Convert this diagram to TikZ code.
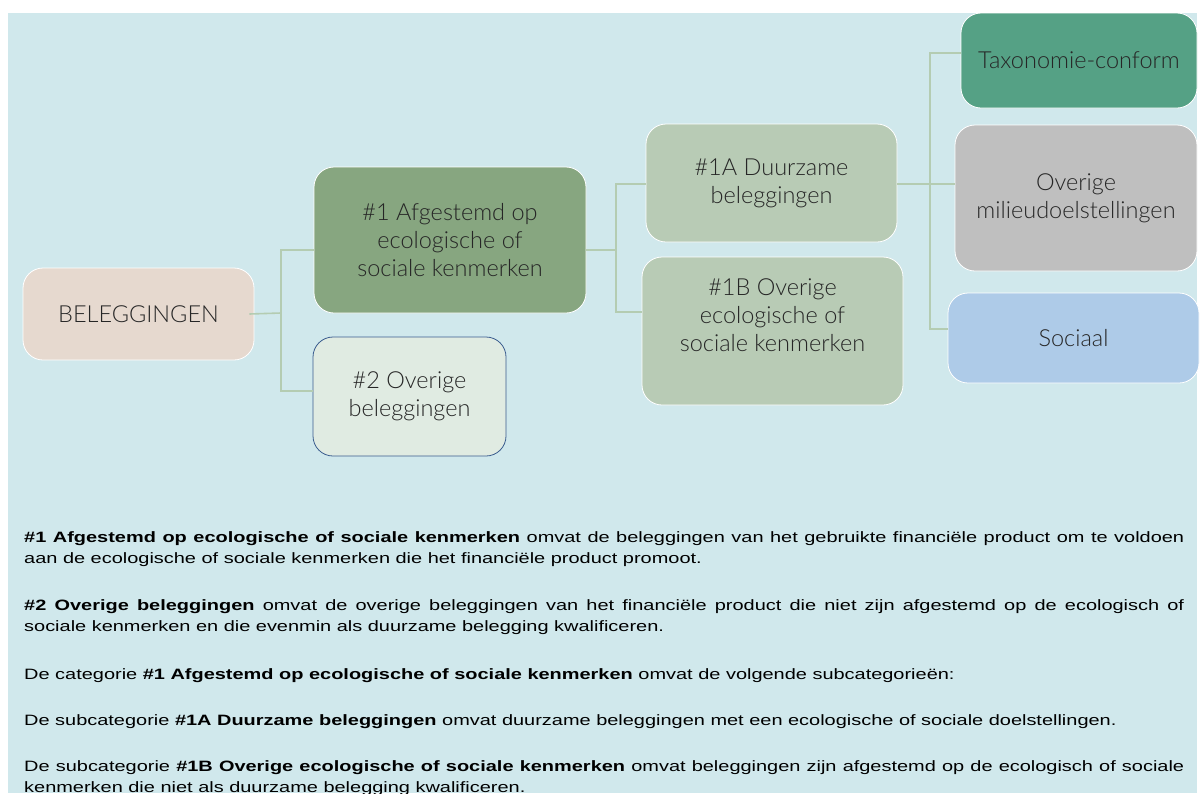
\documentclass[tikz,border=0pt]{standalone}
\usepackage{fontspec}
\setmainfont{Lato}
\newfontfamily\latolight{Lato Light}
\newfontfamily\arialfont[FakeStretch=1.33]{Liberation Sans}
\usetikzlibrary{calc}
\definecolor{bgc}{HTML}{D0E8EC}
\definecolor{belc}{HTML}{E6D9CF}
\definecolor{onec}{HTML}{87A680}
\definecolor{twoc}{HTML}{E0EBE2}
\definecolor{twob}{HTML}{3B5D8F}
\definecolor{subc}{HTML}{B8CBB5}
\definecolor{taxc}{HTML}{55A185}
\definecolor{ovmc}{HTML}{BFBFBF}
\definecolor{socc}{HTML}{AECBE8}
\definecolor{linec}{HTML}{B4CCB2}
\definecolor{txtc}{HTML}{262626}
\tikzset{
  box/.style={draw=white, line width=0.8pt, rounded corners=20pt, align=center,
    text=txtc, inner sep=0pt, font=\latolight\fontsize{23.5}{28}\selectfont},
  conn/.style={draw=linec, line width=1.6pt},
  para/.style={anchor=base west, text width=1160pt, align=justify, inner sep=0pt,
    font=\arialfont\fontsize{15}{21.5}\selectfont, text=black}
}
\begin{document}
\begin{tikzpicture}[x=1pt,y=-1pt]
\useasboundingbox (0,0) rectangle (1201,793);
\fill[white] (0,0) rectangle (1201,793);
\fill[bgc] (8,13) rectangle (1197,793);

% nodes
\node[box, fill=belc, minimum width=231pt, minimum height=92pt] (bel) at (138.5,314) {BELEGGINGEN};
\node[box, fill=onec, minimum width=272pt, minimum height=146pt] (n1) at (450,240) {\#1 Afgestemd op\\ecologische of\\sociale kenmerken};
\node[box, fill=twoc, draw=twob, minimum width=193pt, minimum height=119pt] (n2) at (409.5,396.5) {\#2 Overige\\beleggingen};
\node[box, fill=subc, minimum width=251pt, minimum height=118pt] (n1a) at (771.5,183) {\#1A Duurzame\\beleggingen};
\node[box, fill=subc, minimum width=261pt, minimum height=148pt] (n1b) at (772.5,331) {\#1B Overige\\ecologische of\\sociale kenmerken\\[-4pt]\strut};
\node[box, fill=taxc, minimum width=236pt, minimum height=95pt] (tax) at (1079,60.5) {Taxonomie-conform};
\node[box, fill=ovmc, minimum width=242pt, minimum height=146pt] (ovm) at (1076,198) {Overige\\milieudoelstellingen};
\node[box, fill=socc, minimum width=251pt, minimum height=90pt] (soc) at (1073.5,338) {Sociaal};

% connectors level 1
\coordinate (j1) at (281,313);
\draw[conn] ([xshift=-5pt]bel.east) -- (j1);
\draw[conn] ([yshift=-10pt]n1.west) -| (j1);
\draw[conn] ([yshift=5.5pt]n2.west) -| (j1);
% level 2
\coordinate (j2) at (616,250);
\draw[conn] ([yshift=-10pt]n1.east) -- (j2);
\draw[conn] ([yshift=-1pt]n1a.west) -| (j2);
\draw[conn] ([yshift=19pt]n1b.west) -| (j2);
% level 3
\coordinate (j3) at (930,184);
\draw[conn] ([yshift=-1pt]n1a.east) -- (j3);
\draw[conn] ([yshift=7.5pt]tax.west) -| (j3);
\draw[conn] ([yshift=14pt]ovm.west) -- (j3);
\draw[conn] ([yshift=9pt]soc.west) -| (j3);

% explanatory text
\node[para] (p1) at (24,542) {\textbf{\#1 Afgestemd op ecologische of sociale kenmerken} omvat de beleggingen van het gebruikte financiële product om te voldoen\linebreak aan de ecologische of sociale kenmerken die het financiële product promoot.};
\node[para] (p2) at (24,610) {\textbf{\#2 Overige beleggingen} omvat de overige beleggingen van het financiële product die niet zijn afgestemd op de ecologisch of\linebreak sociale kenmerken en die evenmin als duurzame belegging kwalificeren.};
\node[para] (p3) at (24,679) {De categorie \textbf{\#1 Afgestemd op ecologische of sociale kenmerken} omvat de volgende subcategorieën:};
\node[para] (p4) at (24,725) {De subcategorie \textbf{\#1A Duurzame beleggingen} omvat duurzame beleggingen met een ecologische of sociale doelstellingen.};
\node[para] (p5) at (24,771) {De subcategorie \textbf{\#1B Overige ecologische of sociale kenmerken} omvat beleggingen zijn afgestemd op de ecologisch of sociale\linebreak kenmerken die niet als duurzame belegging kwalificeren.};
\end{tikzpicture}
\end{document}
